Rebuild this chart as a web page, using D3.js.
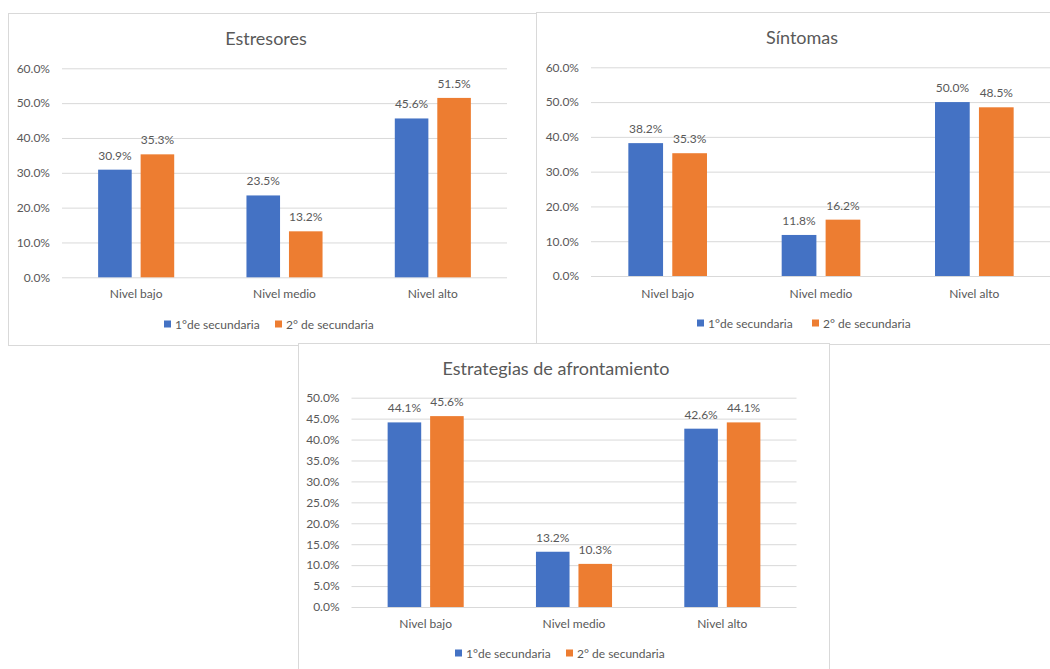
<!DOCTYPE html>
<html>
<head>
<meta charset="utf-8">
<script src="https://cdn.jsdelivr.net/npm/d3@7"></script>
<style>
  html, body { margin: 0; padding: 0; background: #ffffff; }
  svg { display: block; }
  text { font-family: Lato, "Open Sans", sans-serif; fill: #595959; }
</style>
</head>
<body>
<svg id="chart" width="1050" height="669"></svg>
<script>
// ---- Data ----
const categories = ["Nivel bajo", "Nivel medio", "Nivel alto"];
const seriesNames = ["1°de secundaria", "2° de secundaria"];
const estresores1 = [30.9, 23.5, 45.6];
const estresores2 = [35.3, 13.2, 51.5];
const sintomas1 = [38.2, 11.8, 50.0];
const sintomas2 = [35.3, 16.2, 48.5];
const estrategias1 = [44.1, 13.2, 42.6];
const estrategias2 = [45.6, 10.3, 44.1];
const ticks60 = [0, 10, 20, 30, 40, 50, 60];
const ticks50 = [0, 5, 10, 15, 20, 25, 30, 35, 40, 45, 50];
const colors = ["#4472C4", "#ED7D31"];

const svg = d3.select("#chart");

function drawPanel(cfg) {
  const g = svg.append("g");
  // frame
  g.append("rect")
    .attr("x", cfg.box[0] + 0.5).attr("y", cfg.box[1] + 0.5)
    .attr("width", cfg.box[2] - cfg.box[0]).attr("height", cfg.box[3] - cfg.box[1])
    .attr("fill", "#ffffff").attr("stroke", "#d9d9d9").attr("stroke-width", 1);

  // title
  g.append("text")
    .attr("x", cfg.titleX).attr("y", cfg.titleY)
    .attr("text-anchor", "middle").attr("dominant-baseline", "central")
    .style("font-size", "18px")
    .text(cfg.title);

  const x = d3.scaleBand().domain(categories).range([cfg.plotX0, cfg.plotX1]).padding(0);
  const xs = d3.scaleBand().domain(seriesNames).range([0, x.bandwidth()])
    .paddingInner(0.21).paddingOuter(0.85);
  const yMax = cfg.ticks[cfg.ticks.length - 1];
  const y = d3.scaleLinear().domain([0, yMax]).range([cfg.y0, cfg.yTop]);

  // gridlines + y labels
  const yAxis = d3.axisLeft(y).tickValues(cfg.ticks)
    .tickSize(-(cfg.plotX1 - cfg.plotX0))
    .tickPadding(12)
    .tickFormat(d => d.toFixed(1) + "%");
  const ga = g.append("g").attr("transform", `translate(${cfg.plotX0},0)`).call(yAxis);
  ga.select(".domain").remove();
  ga.selectAll(".tick line").attr("stroke", "#d9d9d9").attr("stroke-width", 1);
  ga.selectAll(".tick text").style("font-size", "12px").attr("fill", "#595959")
    .style("font-family", "Lato, 'Open Sans', sans-serif");

  // x labels
  const xAxis = d3.axisBottom(x).tickSize(0).tickPadding(0);
  const gx = g.append("g").attr("transform", `translate(0,${cfg.xLabelY})`).call(xAxis);
  gx.select(".domain").remove();
  gx.selectAll(".tick text").style("font-size", "12px").attr("fill", "#595959")
    .attr("dy", "0.35em")
    .style("font-family", "Lato, 'Open Sans', sans-serif");

  // bars
  const rows = [];
  categories.forEach((c, i) => {
    cfg.values.forEach((vals, s) => rows.push({ cat: c, s: seriesNames[s], si: s, v: vals[i] }));
  });
  g.selectAll("rect.bar").data(rows).enter().append("rect")
    .attr("class", "bar")
    .attr("x", d => x(d.cat) + xs(d.s))
    .attr("width", xs.bandwidth())
    .attr("y", d => y(d.v))
    .attr("height", d => y(0) - y(d.v))
    .attr("fill", d => colors[d.si]);

  g.selectAll("text.lbl").data(rows).enter().append("text")
    .attr("class", "lbl")
    .attr("x", d => x(d.cat) + xs(d.s) + xs.bandwidth() / 2)
    .attr("y", d => y(d.v) - 10)
    .attr("text-anchor", "middle")
    .style("font-size", "12px")
    .text(d => d.v.toFixed(1) + "%");

  // legend
  seriesNames.forEach((name, i) => {
    const lx = cfg.legendX[i];
    g.append("rect").attr("x", lx).attr("y", cfg.legendY - 3.5)
      .attr("width", 7).attr("height", 7).attr("fill", colors[i]);
    g.append("text").attr("x", lx + 11).attr("y", cfg.legendY)
      .attr("dominant-baseline", "central")
      .style("font-size", "12px")
      .text(name);
  });
}

drawPanel({
  box: [8, 13, 536, 345], title: "Estresores", titleX: 266, titleY: 38,
  plotX0: 62, plotX1: 507, y0: 277.3, yTop: 68.3, ticks: ticks60,
  xLabelY: 294, legendY: 324, legendX: [164, 275],
  values: [estresores1, estresores2]
});
drawPanel({
  box: [536, 12, 1062, 344], title: "Síntomas", titleX: 802, titleY: 37,
  plotX0: 591, plotX1: 1051, y0: 276, yTop: 67.3, ticks: ticks60,
  xLabelY: 294, legendY: 323, legendX: [697, 812],
  values: [sintomas1, sintomas2]
});
drawPanel({
  box: [298, 343, 829, 690], title: "Estrategias de afrontamiento", titleX: 556, titleY: 368,
  plotX0: 351.5, plotX1: 796.5, y0: 607, yTop: 397.7, ticks: ticks50,
  xLabelY: 624, legendY: 653, legendX: [455, 566],
  values: [estrategias1, estrategias2]
});
</script>
</body>
</html>
